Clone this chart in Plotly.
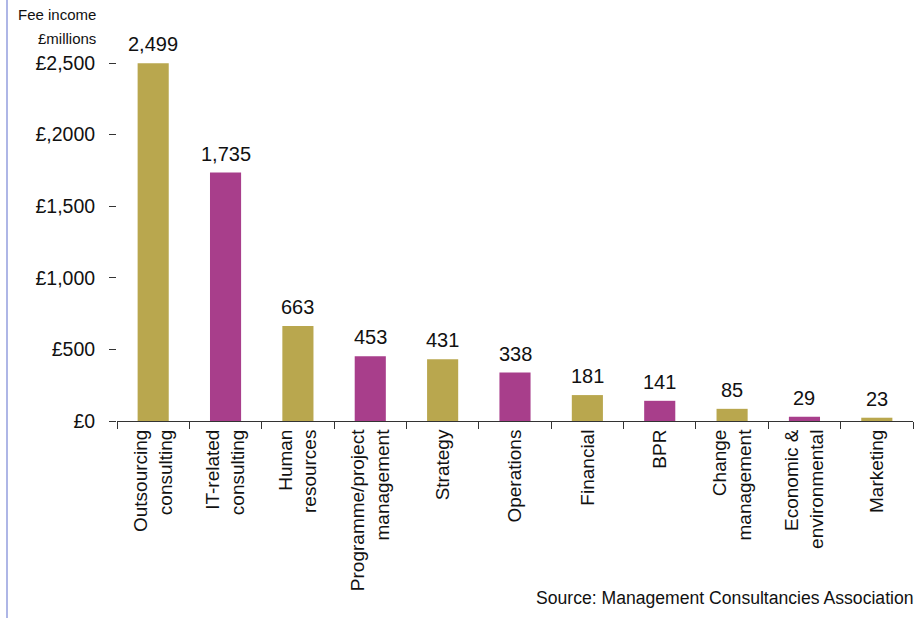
import plotly.graph_objects as go

categories = ["Outsourcing<br>consulting", "IT-related<br>consulting", "Human<br>resources",
              "Programme/project<br>management", "Strategy", "Operations", "Financial", "BPR",
              "Change<br>management", "Economic &<br>environmental", "Marketing"]
values = [2499, 1735, 663, 453, 431, 338, 181, 141, 85, 29, 23]
value_labels = ["2,499", "1,735", "663", "453", "431", "338", "181", "141", "85", "29", "23"]
tick_vals = [0, 500, 1000, 1500, 2000, 2500]
tick_text = ["£0", "£500", "£1,000", "£1,500", "£,2000", "£2,500"]

OLIVE = "#B9A74E"
MAGENTA = "#A83E8B"
colors = [OLIVE if i % 2 == 0 else MAGENTA for i in range(len(values))]

W, H = 923, 618
L, R, T, B = 117, 10, 63, 197
pw, ph = W - L - R, H - T - B

fig = go.Figure()
fig.add_trace(go.Bar(x=categories, y=values, marker=dict(color=colors, line=dict(width=0)),
                     hoverinfo="skip"))

for c, v, t in zip(categories, values, value_labels):
    fig.add_annotation(x=c, y=v, text=t, showarrow=False, yanchor="bottom", yshift=6,
                       font=dict(family="Liberation Sans, Arial", size=20, color="#111"))

fig.add_annotation(xref="paper", yref="paper", x=(98 - L) / pw, y=1 + (63 - 15) / ph,
                   text="Fee income", showarrow=False, xanchor="right", yanchor="middle",
                   font=dict(family="Liberation Sans, Arial", size=15, color="#111"))
fig.add_annotation(xref="paper", yref="paper", x=(98 - L) / pw, y=1 + (63 - 38) / ph,
                   text="£millions", showarrow=False, xanchor="right", yanchor="middle",
                   font=dict(family="Liberation Sans, Arial", size=15, color="#111"))
fig.add_annotation(xref="paper", yref="paper", x=(916 - L) / pw, y=-(598 - (T + ph)) / ph,
                   text="Source: Management Consultancies Association", showarrow=False,
                   xanchor="right", yanchor="middle",
                   font=dict(family="Liberation Sans, Arial", size=17.6, color="#111"))

fig.add_shape(type="line", xref="paper", yref="paper",
              x0=(7 - L) / pw, x1=(7 - L) / pw, y0=-B / ph, y1=1 + T / ph,
              line=dict(color="#AEB6E6", width=2))

fig.update_layout(
    width=W, height=H,
    margin=dict(l=L, r=R, t=T, b=B, autoexpand=False),
    paper_bgcolor="white", plot_bgcolor="white",
    showlegend=False, bargap=0.57,
    font=dict(family="Liberation Sans, Arial", color="#111"),
)
fig.update_xaxes(
    showline=True, linecolor="#333", linewidth=1,
    ticks="outside", tickson="boundaries", ticklen=7, tickcolor="#333",
    tickangle=-90, showgrid=False,
    tickfont=dict(family="Liberation Sans Narrow, Arial Narrow, Liberation Sans", size=19, color="#111"),
)
fig.update_yaxes(
    range=[0, 2500], tickvals=tick_vals, ticktext=tick_text,
    showline=False, showgrid=False, zeroline=False,
    ticks="outside", ticklen=7, tickcolor="#333", ticklabelstandoff=10,
    tickfont=dict(family="Liberation Sans, Arial", size=19.5, color="#111"),
)

fig.write_html("out.html")
